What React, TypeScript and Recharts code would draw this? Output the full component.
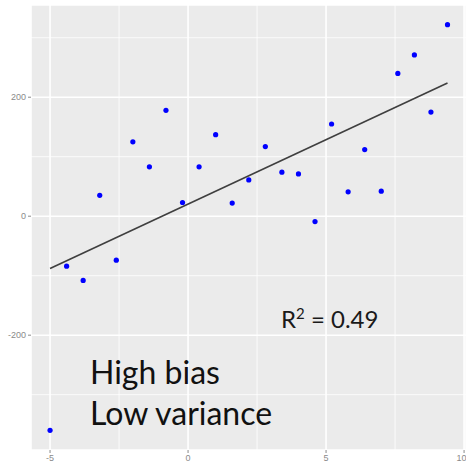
import {
  ScatterChart,
  Scatter,
  XAxis,
  YAxis,
  CartesianGrid,
  ReferenceLine,
} from 'recharts';

// x positions of the observations
const xValues = [
  -5, -4.4, -3.8, -3.2, -2.6, -2.0, -1.4, -0.8, -0.2, 0.4, 1.0, 1.6, 2.2,
  2.8, 3.4, 4.0, 4.6, 5.2, 5.8, 6.4, 7.0, 7.6, 8.2, 8.8, 9.4,
];
// observed y values
const yValues = [
  -360, -84, -108, 35, -74, 125, 83, 178, 23, 83, 137, 22, 61,
  117, 74, 71, -9, 155, 41, 112, 42, 240, 271, 175, 322,
];
// fitted line end points
const fitX = [-5, 9.4];
const fitY = [-88, 224];

const xTicks = [-5, 0, 5, 10];
const yTicks = [-200, 0, 200];
const xMinor = [-2.5, 2.5, 7.5];
const yMinor = [-300, -100, 100, 300];

const points = xValues.map((x, i) => ({ x, y: yValues[i] }));

const tickStyle = { fontSize: 9, fill: '#8a8a8a', fontFamily: 'Arial, sans-serif' };

const Dot = (props: any) => <circle cx={props.cx} cy={props.cy} r={2.6} fill="#0000ff" />;

export default function App() {
  return (
    <div style={{ position: 'absolute', left: 0, top: 0, width: 466, height: 468, background: '#fff' }}>
      <ScatterChart width={466} height={468} margin={{ top: 5, right: 0, left: 0, bottom: 0 }}>
        <CartesianGrid fill="#ebebeb" stroke="#ffffff" strokeWidth={1.6} />
        <XAxis
          type="number"
          dataKey="x"
          domain={[-5.69, 10.07]}
          ticks={xTicks}
          allowDataOverflow
          height={18}
          axisLine={false}
          tickSize={3}
          tickLine={{ stroke: '#8a8a8a' }}
          tick={tickStyle}
        />
        <YAxis
          type="number"
          dataKey="y"
          domain={[-393, 355]}
          ticks={yTicks}
          allowDataOverflow
          width={31}
          axisLine={false}
          tickSize={3}
          tickLine={{ stroke: '#8a8a8a' }}
          tick={tickStyle}
        />
        {xMinor.map((v) => (
          <ReferenceLine key={`vx${v}`} x={v} stroke="#ffffff" strokeWidth={0.8} />
        ))}
        {yMinor.map((v) => (
          <ReferenceLine key={`hy${v}`} y={v} stroke="#ffffff" strokeWidth={0.8} />
        ))}
        <ReferenceLine
          segment={[
            { x: fitX[0], y: fitY[0] },
            { x: fitX[1], y: fitY[1] },
          ]}
          stroke="#3f3f3f"
          strokeWidth={1.6}
        />
        <Scatter data={points} fill="#0000ff" shape={Dot} isAnimationActive={false} />
      </ScatterChart>
      <div
        style={{
          position: 'absolute',
          left: 281,
          top: 306,
          fontFamily: 'Lato, sans-serif',
          fontSize: 24,
          color: '#1a1a1a',
          whiteSpace: 'nowrap',
          lineHeight: 1,
        }}
      >
        R<sup style={{ fontSize: 15 }}>2</sup> = 0.49
      </div>
      <div
        style={{
          position: 'absolute',
          left: 90,
          top: 351,
          fontFamily: 'Lato, sans-serif',
          fontSize: 32,
          color: '#111',
          whiteSpace: 'nowrap',
          lineHeight: '41px',
        }}
      >
        High bias
        <br />
        Low variance
      </div>
    </div>
  );
}
